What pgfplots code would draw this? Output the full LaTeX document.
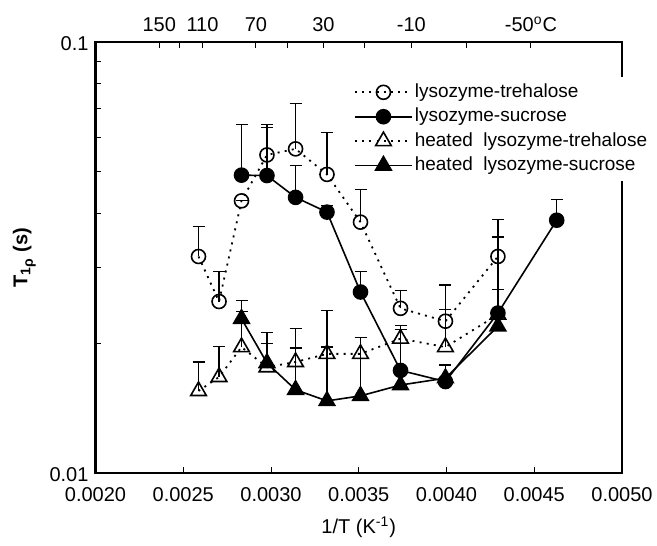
\documentclass[border=0pt]{standalone}
\usepackage{pgfplots}
\pgfplotsset{compat=1.18}
\usepackage{fontspec}
\setmainfont{Liberation Sans}

\pgfplotsset{
  errs/.style={error bars/.cd, y dir=plus, y explicit,
    error bar style={solid, line width=0.6pt},
    error mark options={rotate=90, mark size=3pt, line width=0.6pt, solid}},
  dots/.style={dash pattern=on 1pt off 2.6pt, line width=0.9pt},
}

\begin{document}
\begin{tikzpicture}
\begin{axis}[
  name=main,
  scale only axis, width=263.25pt, height=215.5pt,
  xmin=0.002, xmax=0.005,
  ymode=log, ymin=0.01, ymax=0.1,
  xtick={0.002,0.0025,0.003,0.0035,0.004,0.0045,0.005},
  scaled x ticks=false,
  xticklabel style={yshift=-3.5pt, /pgf/number format/.cd, fixed, fixed zerofill, precision=4, assume math mode=true},
  ytick={0.01,0.1}, yticklabels={0.01,0.1},
  yticklabel style={yshift=-1pt},
  minor ytick={0.02,0.03,0.04,0.05,0.06,0.07,0.08,0.09},
  xtick pos=left, ytick pos=left,
  tick align=inside,
  major tick length=3pt, minor tick length=3pt,
  axis line style={line width=1.1pt},
  tick style={line width=0.5pt, black},
  font=\fontsize{10}{12}\selectfont,
  xlabel={1/T (K\textsuperscript{-1})},
  xlabel style={yshift=-1pt},
  ylabel={\textbf{T\textsubscript{1\raisebox{-0.35ex}{\scriptsize ρ}} (s)}},
  legend style={at={(0.479,0.919)}, anchor=north west, draw=none, fill=white,
    font=\fontsize{9.5}{11}\selectfont, row sep=1.2pt,
    nodes={inner sep=1pt, text height=7pt, text depth=2pt}},
  legend cell align=left,
  legend image code/.code={\draw[mark repeat=2, mark phase=2] plot coordinates {(0cm,0cm) (0.5cm,0cm) (1cm,0cm)};},
]
% lysozyme-trehalose
\addplot[black, dots, mark=o, mark size=3.5pt, mark options={solid, fill=white, line width=0.8pt}, errs]
  coordinates {
  (0.002587,0.0318) +- (0,0.0056)
  (0.002704,0.0250) +- (0,0.0043)
  (0.002832,0.0428) +- (0,0)
  (0.002977,0.0547) +- (0,0.0097)
  (0.003140,0.0565) +- (0,0.0156)
  (0.003319,0.0493) +- (0,0.0124)
  (0.003510,0.0382) +- (0,0.0072)
  (0.003738,0.0241) +- (0,0.0024)
  (0.003994,0.0225) +- (0,0.0048)
  (0.004293,0.0318) +- (0,0.0070)
  };
\addlegendentry{lysozyme-trehalose}
% lysozyme-sucrose
\addplot[black, solid, line width=0.8pt, mark=*, mark size=3.5pt, mark options={fill=black}, errs]
  coordinates {
  (0.002832,0.0491) +- (0,0.0154)
  (0.002977,0.0490) +- (0,0.0143)
  (0.003140,0.0436) +- (0,0.0080)
  (0.003319,0.0403) +- (0,0.0015)
  (0.003510,0.0263) +- (0,0.0030)
  (0.003738,0.0173) +- (0,0)
  (0.003994,0.0163) +- (0,0.0015)
  (0.004293,0.0235) +- (0,0.0032)
  (0.004628,0.0386) +- (0,0.0046)
  };
\addlegendentry{lysozyme-sucrose}
% heated lysozyme-trehalose
\addplot[black, dots, mark=triangle, mark size=4.5pt, mark options={solid, fill=white, line width=0.8pt}, errs]
  coordinates {
  (0.002587,0.0155) +- (0,0.0026)
  (0.002704,0.0167) +- (0,0.0030)
  (0.002832,0.0196) +- (0,0.0041)
  (0.002977,0.0176) +- (0,0.0036)
  (0.003140,0.0181) +- (0,0.0035)
  (0.003319,0.0189) +- (0,0.0049)
  (0.003510,0.0189) +- (0,0.0017)
  (0.003738,0.0205) +- (0,0.0015)
  (0.003994,0.0196) +- (0,0.0044)
  (0.004293,0.0233) +- (0,0.0120)
  };
\addlegendentry{heated\ \ lysozyme-trehalose}
% heated lysozyme-sucrose
\addplot[black, solid, line width=0.8pt, mark=triangle*, mark size=4.5pt, mark options={fill=black}, errs]
  coordinates {
  (0.002832,0.0228) +- (0,0.0023)
  (0.002977,0.0180) +- (0,0.0020)
  (0.003140,0.0156) +- (0,0.0039)
  (0.003319,0.0147) +- (0,0.0049)
  (0.003510,0.0151) +- (0,0.0055)
  (0.003738,0.0160) +- (0,0.0055)
  (0.003994,0.0166) +- (0,0)
  (0.004293,0.0219) +- (0,0)
  };
\addlegendentry{heated\ \ lysozyme-sucrose}
\end{axis}
\begin{axis}[
  scale only axis, width=263.25pt, height=215.5pt,
  xmin=0.002, xmax=0.005, ymin=0, ymax=1,
  axis x line*=top, axis y line=none,
  scaled x ticks=false,
  xtick={0.0023632,0.0024805,0.0026099,0.0029142,0.0030945,0.0032987,0.0035317,0.0038001,0.0041127,0.0044813},
  xticklabels={150,,110,70,,30,,-10,,-50\textsuperscript{o}C},
  xticklabel style={yshift=1.5pt},
  tick align=inside, major tick length=3pt,
  axis line style={-, line width=1.1pt},
  tick style={line width=0.5pt, black},
  font=\fontsize{10}{12}\selectfont,
]
\addplot[draw=none] coordinates {(0.003,0.5)};
\end{axis}
\pgfresetboundingbox
\path[use as bounding box] ([xshift=-47.75pt,yshift=-36pt]main.south west) rectangle ([xshift=17.5pt,yshift=21pt]main.north east);
\end{tikzpicture}
\end{document}
